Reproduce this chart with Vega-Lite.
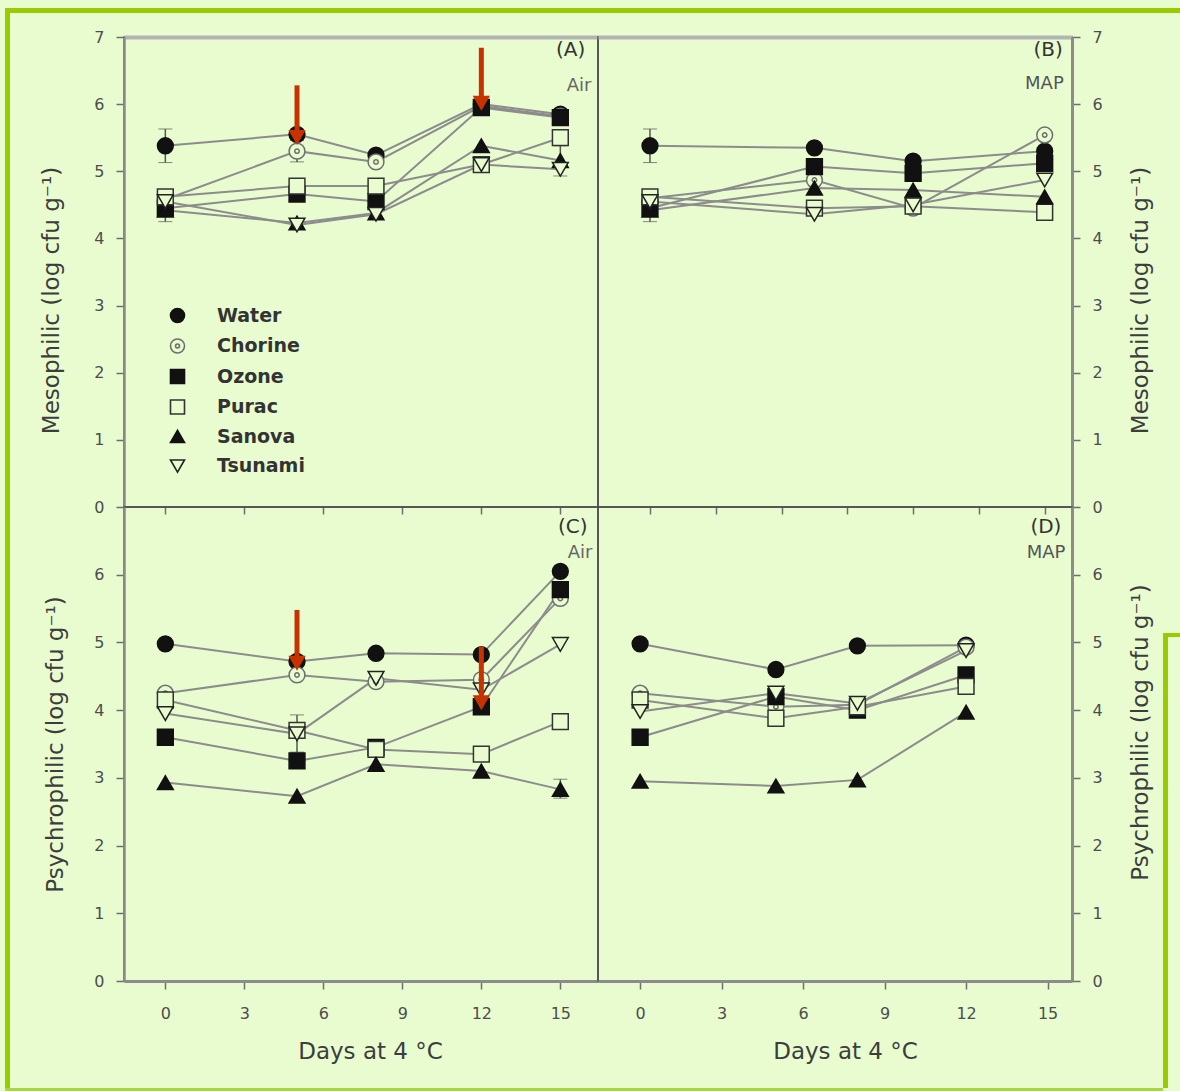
{
  "$schema": "https://vega.github.io/schema/vega-lite/v6.json",
  "background": "#e8fcd0",
  "padding": {"left": 5, "top": 8, "right": 0, "bottom": 0},
  "autosize": {"type": "pad"},
  "config": {
    "font": "DejaVu Sans",
    "view": {"stroke": null},
    "axis": {
      "grid": false,
      "labelFont": "DejaVu Sans",
      "titleFont": "DejaVu Sans",
      "labelColor": "#4d4d4d",
      "titleColor": "#3d3d3d",
      "tickColor": "#6e6e6e",
      "tickWidth": 1.5,
      "labelFontSize": 16,
      "titleFontSize": 23,
      "titleFontWeight": "normal",
      "zindex": 1
    },
    "legend": {
      "title": null,
      "orient": "none",
      "legendX": 163,
      "legendY": 298,
      "padding": 0,
      "labelFont": "DejaVu Sans",
      "labelFontSize": 19,
      "labelFontWeight": "bold",
      "labelColor": "#333333",
      "labelOffset": 30,
      "rowPadding": 9.5,
      "symbolSize": 196,
      "symbolStrokeWidth": 1.6
    }
  },
  "datasets": {
    "micro": [
      {"panel": "A", "treatment": "Water", "day": 0, "value": 5.38},
      {"panel": "A", "treatment": "Water", "day": 5, "value": 5.55},
      {"panel": "A", "treatment": "Water", "day": 8, "value": 5.24},
      {"panel": "A", "treatment": "Water", "day": 12, "value": 6.0},
      {"panel": "A", "treatment": "Water", "day": 15, "value": 5.85},
      {"panel": "A", "treatment": "Chorine", "day": 0, "value": 4.58},
      {"panel": "A", "treatment": "Chorine", "day": 5, "value": 5.3},
      {"panel": "A", "treatment": "Chorine", "day": 8, "value": 5.14},
      {"panel": "A", "treatment": "Chorine", "day": 12, "value": 5.97},
      {"panel": "A", "treatment": "Chorine", "day": 15, "value": 5.82},
      {"panel": "A", "treatment": "Ozone", "day": 0, "value": 4.45},
      {"panel": "A", "treatment": "Ozone", "day": 5, "value": 4.66},
      {"panel": "A", "treatment": "Ozone", "day": 8, "value": 4.55},
      {"panel": "A", "treatment": "Ozone", "day": 12, "value": 5.95},
      {"panel": "A", "treatment": "Ozone", "day": 15, "value": 5.8},
      {"panel": "A", "treatment": "Purac", "day": 0, "value": 4.62},
      {"panel": "A", "treatment": "Purac", "day": 5, "value": 4.78},
      {"panel": "A", "treatment": "Purac", "day": 8, "value": 4.78},
      {"panel": "A", "treatment": "Purac", "day": 12, "value": 5.1},
      {"panel": "A", "treatment": "Purac", "day": 15, "value": 5.5},
      {"panel": "A", "treatment": "Sanova", "day": 0, "value": 4.42},
      {"panel": "A", "treatment": "Sanova", "day": 5, "value": 4.23},
      {"panel": "A", "treatment": "Sanova", "day": 8, "value": 4.38},
      {"panel": "A", "treatment": "Sanova", "day": 12, "value": 5.38},
      {"panel": "A", "treatment": "Sanova", "day": 15, "value": 5.16},
      {"panel": "A", "treatment": "Tsunami", "day": 0, "value": 4.55},
      {"panel": "A", "treatment": "Tsunami", "day": 5, "value": 4.2},
      {"panel": "A", "treatment": "Tsunami", "day": 8, "value": 4.36},
      {"panel": "A", "treatment": "Tsunami", "day": 12, "value": 5.1},
      {"panel": "A", "treatment": "Tsunami", "day": 15, "value": 5.03},

      {"panel": "B", "treatment": "Water", "day": 0, "value": 5.38},
      {"panel": "B", "treatment": "Water", "day": 5, "value": 5.35},
      {"panel": "B", "treatment": "Water", "day": 8, "value": 5.15},
      {"panel": "B", "treatment": "Water", "day": 12, "value": 5.3},
      {"panel": "B", "treatment": "Chorine", "day": 0, "value": 4.6},
      {"panel": "B", "treatment": "Chorine", "day": 5, "value": 4.87},
      {"panel": "B", "treatment": "Chorine", "day": 8, "value": 4.45},
      {"panel": "B", "treatment": "Chorine", "day": 12, "value": 5.54},
      {"panel": "B", "treatment": "Ozone", "day": 0, "value": 4.45},
      {"panel": "B", "treatment": "Ozone", "day": 5, "value": 5.07},
      {"panel": "B", "treatment": "Ozone", "day": 8, "value": 4.97},
      {"panel": "B", "treatment": "Ozone", "day": 12, "value": 5.12},
      {"panel": "B", "treatment": "Purac", "day": 0, "value": 4.62},
      {"panel": "B", "treatment": "Purac", "day": 5, "value": 4.45},
      {"panel": "B", "treatment": "Purac", "day": 8, "value": 4.48},
      {"panel": "B", "treatment": "Purac", "day": 12, "value": 4.39},
      {"panel": "B", "treatment": "Sanova", "day": 0, "value": 4.42},
      {"panel": "B", "treatment": "Sanova", "day": 5, "value": 4.75},
      {"panel": "B", "treatment": "Sanova", "day": 8, "value": 4.72},
      {"panel": "B", "treatment": "Sanova", "day": 12, "value": 4.62},
      {"panel": "B", "treatment": "Tsunami", "day": 0, "value": 4.55},
      {"panel": "B", "treatment": "Tsunami", "day": 5, "value": 4.36},
      {"panel": "B", "treatment": "Tsunami", "day": 8, "value": 4.5},
      {"panel": "B", "treatment": "Tsunami", "day": 12, "value": 4.87},

      {"panel": "C", "treatment": "Water", "day": 0, "value": 4.98},
      {"panel": "C", "treatment": "Water", "day": 5, "value": 4.72},
      {"panel": "C", "treatment": "Water", "day": 8, "value": 4.84},
      {"panel": "C", "treatment": "Water", "day": 12, "value": 4.82},
      {"panel": "C", "treatment": "Water", "day": 15, "value": 6.05},
      {"panel": "C", "treatment": "Chorine", "day": 0, "value": 4.25},
      {"panel": "C", "treatment": "Chorine", "day": 5, "value": 4.52},
      {"panel": "C", "treatment": "Chorine", "day": 8, "value": 4.42},
      {"panel": "C", "treatment": "Chorine", "day": 12, "value": 4.45},
      {"panel": "C", "treatment": "Chorine", "day": 15, "value": 5.65},
      {"panel": "C", "treatment": "Ozone", "day": 0, "value": 3.6},
      {"panel": "C", "treatment": "Ozone", "day": 5, "value": 3.25},
      {"panel": "C", "treatment": "Ozone", "day": 8, "value": 3.45},
      {"panel": "C", "treatment": "Ozone", "day": 12, "value": 4.05},
      {"panel": "C", "treatment": "Ozone", "day": 15, "value": 5.78},
      {"panel": "C", "treatment": "Purac", "day": 0, "value": 4.15},
      {"panel": "C", "treatment": "Purac", "day": 5, "value": 3.7},
      {"panel": "C", "treatment": "Purac", "day": 8, "value": 3.42},
      {"panel": "C", "treatment": "Purac", "day": 12, "value": 3.35},
      {"panel": "C", "treatment": "Purac", "day": 15, "value": 3.83},
      {"panel": "C", "treatment": "Sanova", "day": 0, "value": 2.93},
      {"panel": "C", "treatment": "Sanova", "day": 5, "value": 2.73},
      {"panel": "C", "treatment": "Sanova", "day": 8, "value": 3.2},
      {"panel": "C", "treatment": "Sanova", "day": 12, "value": 3.1},
      {"panel": "C", "treatment": "Sanova", "day": 15, "value": 2.83},
      {"panel": "C", "treatment": "Tsunami", "day": 0, "value": 3.95},
      {"panel": "C", "treatment": "Tsunami", "day": 5, "value": 3.65},
      {"panel": "C", "treatment": "Tsunami", "day": 8, "value": 4.47},
      {"panel": "C", "treatment": "Tsunami", "day": 12, "value": 4.3},
      {"panel": "C", "treatment": "Tsunami", "day": 15, "value": 4.97},

      {"panel": "D", "treatment": "Water", "day": 0, "value": 4.98},
      {"panel": "D", "treatment": "Water", "day": 5, "value": 4.6},
      {"panel": "D", "treatment": "Water", "day": 8, "value": 4.95},
      {"panel": "D", "treatment": "Water", "day": 12, "value": 4.96},
      {"panel": "D", "treatment": "Chorine", "day": 0, "value": 4.25},
      {"panel": "D", "treatment": "Chorine", "day": 5, "value": 4.05},
      {"panel": "D", "treatment": "Chorine", "day": 8, "value": 4.08},
      {"panel": "D", "treatment": "Chorine", "day": 12, "value": 4.93},
      {"panel": "D", "treatment": "Ozone", "day": 0, "value": 3.6},
      {"panel": "D", "treatment": "Ozone", "day": 5, "value": 4.2},
      {"panel": "D", "treatment": "Ozone", "day": 8, "value": 4.0},
      {"panel": "D", "treatment": "Ozone", "day": 12, "value": 4.52},
      {"panel": "D", "treatment": "Purac", "day": 0, "value": 4.15},
      {"panel": "D", "treatment": "Purac", "day": 5, "value": 3.88},
      {"panel": "D", "treatment": "Purac", "day": 8, "value": 4.05},
      {"panel": "D", "treatment": "Purac", "day": 12, "value": 4.35},
      {"panel": "D", "treatment": "Sanova", "day": 0, "value": 2.95},
      {"panel": "D", "treatment": "Sanova", "day": 5, "value": 2.88},
      {"panel": "D", "treatment": "Sanova", "day": 8, "value": 2.97},
      {"panel": "D", "treatment": "Sanova", "day": 12, "value": 3.97},
      {"panel": "D", "treatment": "Tsunami", "day": 0, "value": 3.98},
      {"panel": "D", "treatment": "Tsunami", "day": 5, "value": 4.25},
      {"panel": "D", "treatment": "Tsunami", "day": 8, "value": 4.1},
      {"panel": "D", "treatment": "Tsunami", "day": 12, "value": 4.88}
    ],
    "err": [
      {"panel": "A", "treatment": "Water", "day": 0, "lo": 5.13, "hi": 5.63},
      {"panel": "A", "treatment": "Sanova", "day": 0, "lo": 4.25, "hi": 4.59},
      {"panel": "A", "treatment": "Chorine", "day": 5, "lo": 5.14, "hi": 5.46},
      {"panel": "A", "treatment": "Sanova", "day": 15, "lo": 4.93, "hi": 5.38},
      {"panel": "B", "treatment": "Water", "day": 0, "lo": 5.13, "hi": 5.63},
      {"panel": "B", "treatment": "Sanova", "day": 0, "lo": 4.25, "hi": 4.59},
      {"panel": "C", "treatment": "Tsunami", "day": 5, "lo": 3.38, "hi": 3.93},
      {"panel": "C", "treatment": "Sanova", "day": 15, "lo": 2.7, "hi": 2.98}
    ],
    "arrows": [
      {"panel": "A", "day": 5, "from": 6.28, "to": 5.39},
      {"panel": "A", "day": 12, "from": 6.84, "to": 5.9},
      {"panel": "C", "day": 5, "from": 5.48, "to": 4.58},
      {"panel": "C", "day": 12, "from": 4.94, "to": 4.0}
    ],
    "tags": [
      {"panel": "A", "tag": "(A)", "gas": "Air"},
      {"panel": "B", "tag": "(B)", "gas": "MAP"},
      {"panel": "C", "tag": "(C)", "gas": "Air"},
      {"panel": "D", "tag": "(D)", "gas": "MAP"}
    ]
  },
  "spacing": 0,
  "vconcat": [
    {"width": 1175, "height": 5, "data": {"values": []}, "mark": "point", "view": {"fill": "#99cc00"}},
    {
      "spacing": 0,
      "hconcat": [
        {"width": 5, "height": 1075, "data": {"values": []}, "mark": "point", "view": {"fill": "#99cc00"}},
        {
          "columns": 3,
          "spacing": 0,
          "bounds": "flush",
          "concat": [
            {"width": 114, "height": 24, "data": {"values": []}, "mark": "point"},
            {"width": 474, "height": 24, "data": {"values": []}, "mark": "point"},
            {"width": 474, "height": 24, "data": {"values": []}, "mark": "point"},
            {"width": 114, "height": 470, "data": {"values": []}, "mark": "point"},
            {
              "width": 474, "height": 470,
              "view": {"stroke": "#4d4d4d", "strokeWidth": 1.5},
              "layer": [
                {
                  "data": {"name": "micro"},
                  "transform": [{"filter": "datum.panel === 'A'"}],
                  "mark": {"type": "line", "color": "#8c8c8c", "strokeWidth": 2},
                  "encoding": {
                    "x": {"field": "day", "type": "quantitative", "scale": {"domain": [-1.57, 16.43], "nice": false, "zero": false},
                          "axis": {"orient": "bottom", "values": [0, 3, 6, 9, 12, 15], "labels": false, "domain": false, "tickSize": 7, "title": null}},
                    "y": {"field": "value", "type": "quantitative", "scale": {"domain": [0, 7], "nice": false, "zero": false},
                          "axis": {"orient": "left", "values": [0, 1, 2, 3, 4, 5, 6, 7], "format": "d", "tickSize": 8, "labelPadding": 12, "domainColor": "#8c8c8c", "domainWidth": 2.5, "title": "Mesophilic (log cfu g⁻¹)", "titlePadding": 30, "titleY": 263}},
                    "detail": {"field": "treatment"}
                  }
                },
                {
                  "data": {"name": "err"},
                  "transform": [{"filter": "datum.panel === 'A'"}],
                  "mark": {"type": "errorbar", "ticks": {"size": 14, "color": "#555555", "strokeWidth": 1.5}, "rule": {"color": "#555555", "strokeWidth": 1.5}},
                  "encoding": {
                    "x": {"field": "day", "type": "quantitative", "axis": null},
                    "y": {"field": "lo", "type": "quantitative", "title": "Mesophilic (log cfu g⁻¹)"},
                    "y2": {"field": "hi"}
                  }
                },
                {
                  "data": {"name": "micro"},
                  "transform": [{"filter": "datum.panel === 'A'"}],
                  "mark": {"type": "point", "size": 250, "strokeWidth": 1.5, "opacity": 1},
                  "encoding": {
                    "x": {"field": "day", "type": "quantitative", "axis": null},
                    "y": {"field": "value", "type": "quantitative"},
                    "shape": {"field": "treatment", "type": "nominal",
                      "scale": {"domain": ["Water", "Chorine", "Ozone", "Purac", "Sanova", "Tsunami"],
                                "range": ["circle", "M-1,0A1,1 0 1,1 1,0A1,1 0 1,1 -1,0ZM-0.28,0A0.28,0.28 0 1,1 0.28,0A0.28,0.28 0 1,1 -0.28,0Z", "square", "square", "triangle-up", "triangle-down"]}},
                    "fill": {"field": "treatment", "type": "nominal",
                      "scale": {"domain": ["Water", "Chorine", "Ozone", "Purac", "Sanova", "Tsunami"],
                                "range": ["#111111", "#e8fcd0", "#111111", "#e8fcd0", "#111111", "#e8fcd0"]}},
                    "stroke": {"field": "treatment", "type": "nominal",
                      "scale": {"domain": ["Water", "Chorine", "Ozone", "Purac", "Sanova", "Tsunami"],
                                "range": ["#111111", "#6e6e6e", "#111111", "#333333", "#111111", "#222222"]}}
                  }
                },
                {
                  "data": {"name": "arrows"},
                  "transform": [{"filter": "datum.panel === 'A'"}],
                  "mark": {"type": "rule", "color": "#c83200", "strokeWidth": 5, "y2Offset": -10},
                  "encoding": {
                    "x": {"field": "day", "type": "quantitative", "axis": null},
                    "y": {"field": "from", "type": "quantitative"},
                    "y2": {"field": "to"}
                  }
                },
                {
                  "data": {"name": "arrows"},
                  "transform": [{"filter": "datum.panel === 'A'"}],
                  "mark": {"type": "point", "shape": "triangle-down", "filled": true, "color": "#c83200", "size": 300, "opacity": 1, "yOffset": -7.5},
                  "encoding": {
                    "x": {"field": "day", "type": "quantitative", "axis": null},
                    "y": {"field": "to", "type": "quantitative"}
                  }
                },
                {
                  "data": {"name": "tags"},
                  "transform": [{"filter": "datum.panel === 'A'"}],
                  "mark": {"type": "text", "align": "right", "baseline": "middle", "fontSize": 20, "color": "#333333"},
                  "encoding": {
                    "x": {"datum": 15.95, "type": "quantitative",
                          "axis": {"orient": "top", "labels": false, "ticks": false, "domain": true, "domainColor": "#b4b4b4", "domainWidth": 4, "title": null}},
                    "y": {"datum": 6.81, "type": "quantitative"},
                    "text": {"field": "tag"}
                  }
                },
                {
                  "data": {"name": "tags"},
                  "transform": [{"filter": "datum.panel === 'A'"}],
                  "mark": {"type": "text", "align": "right", "baseline": "middle", "fontSize": 18, "color": "#666666"},
                  "encoding": {
                    "x": {"datum": 16.18, "type": "quantitative", "axis": null},
                    "y": {"datum": 6.27, "type": "quantitative"},
                    "text": {"field": "gas"}
                  }
                }
              ]
            },
            {
              "width": 474, "height": 470,
              "view": {"stroke": "#4d4d4d", "strokeWidth": 1.5},
              "layer": [
                {
                  "data": {"name": "micro"},
                  "transform": [{"filter": "datum.panel === 'B'"}],
                  "mark": {"type": "line", "color": "#8c8c8c", "strokeWidth": 2},
                  "encoding": {
                    "x": {"field": "day", "type": "quantitative", "scale": {"domain": [-1.58, 12.83], "nice": false, "zero": false},
                          "axis": {"orient": "bottom", "values": [0, 2, 4, 6, 8, 10, 12], "labels": false, "domain": false, "tickSize": 7, "title": null}},
                    "y": {"field": "value", "type": "quantitative", "scale": {"domain": [0, 7], "nice": false, "zero": false},
                          "axis": {"orient": "right", "values": [0, 1, 2, 3, 4, 5, 6, 7], "format": "d", "tickSize": 8, "labelPadding": 12, "domainColor": "#8c8c8c", "domainWidth": 3, "title": "Mesophilic (log cfu g⁻¹)", "titleAngle": 270, "titleBaseline": "top", "titlePadding": 27, "titleY": 263}},
                    "detail": {"field": "treatment"}
                  }
                },
                {
                  "data": {"name": "err"},
                  "transform": [{"filter": "datum.panel === 'B'"}],
                  "mark": {"type": "errorbar", "ticks": {"size": 14, "color": "#555555", "strokeWidth": 1.5}, "rule": {"color": "#555555", "strokeWidth": 1.5}},
                  "encoding": {
                    "x": {"field": "day", "type": "quantitative", "axis": null},
                    "y": {"field": "lo", "type": "quantitative", "title": "Mesophilic (log cfu g⁻¹)"},
                    "y2": {"field": "hi"}
                  }
                },
                {
                  "data": {"name": "micro"},
                  "transform": [{"filter": "datum.panel === 'B'"}],
                  "mark": {"type": "point", "size": 250, "strokeWidth": 1.5, "opacity": 1},
                  "encoding": {
                    "x": {"field": "day", "type": "quantitative", "axis": null},
                    "y": {"field": "value", "type": "quantitative"},
                    "shape": {"field": "treatment", "type": "nominal"},
                    "fill": {"field": "treatment", "type": "nominal"},
                    "stroke": {"field": "treatment", "type": "nominal"}
                  }
                },
                {
                  "data": {"name": "tags"},
                  "transform": [{"filter": "datum.panel === 'B'"}],
                  "mark": {"type": "text", "align": "right", "baseline": "middle", "fontSize": 20, "color": "#333333"},
                  "encoding": {
                    "x": {"datum": 12.55, "type": "quantitative",
                          "axis": {"orient": "top", "labels": false, "ticks": false, "domain": true, "domainColor": "#b4b4b4", "domainWidth": 4, "title": null}},
                    "y": {"datum": 6.81, "type": "quantitative"},
                    "text": {"field": "tag"}
                  }
                },
                {
                  "data": {"name": "tags"},
                  "transform": [{"filter": "datum.panel === 'B'"}],
                  "mark": {"type": "text", "align": "right", "baseline": "middle", "fontSize": 18, "color": "#555555"},
                  "encoding": {
                    "x": {"datum": 12.58, "type": "quantitative", "axis": null},
                    "y": {"datum": 6.3, "type": "quantitative"},
                    "text": {"field": "gas"}
                  }
                }
              ]
            },
            {"width": 114, "height": 474, "data": {"values": []}, "mark": "point"},
            {
              "width": 474, "height": 474,
              "view": {"stroke": "#4d4d4d", "strokeWidth": 1.5},
              "layer": [
                {
                  "data": {"name": "micro"},
                  "transform": [{"filter": "datum.panel === 'C'"}],
                  "mark": {"type": "line", "color": "#8c8c8c", "strokeWidth": 2},
                  "encoding": {
                    "x": {"field": "day", "type": "quantitative", "scale": {"domain": [-1.57, 16.43], "nice": false, "zero": false},
                          "axis": {"orient": "bottom", "values": [0, 3, 6, 9, 12, 15], "format": "d", "tickSize": 8, "labelPadding": 16, "domainColor": "#8c8c8c", "domainWidth": 3, "title": "Days at 4 °C", "titlePadding": 19, "titleX": 246}},
                    "y": {"field": "value", "type": "quantitative", "scale": {"domain": [0, 7], "nice": false, "zero": false},
                          "axis": {"orient": "left", "values": [0, 1, 2, 3, 4, 5, 6], "format": "d", "tickSize": 8, "labelPadding": 12, "domainColor": "#8c8c8c", "domainWidth": 2.5, "title": "Psychrophilic (log cfu g⁻¹)", "titlePadding": 26}},
                    "detail": {"field": "treatment"}
                  }
                },
                {
                  "data": {"name": "err"},
                  "transform": [{"filter": "datum.panel === 'C'"}],
                  "mark": {"type": "errorbar", "ticks": {"size": 14, "color": "#555555", "strokeWidth": 1.5}, "rule": {"color": "#555555", "strokeWidth": 1.5}},
                  "encoding": {
                    "x": {"field": "day", "type": "quantitative", "title": "Days at 4 °C"},
                    "y": {"field": "lo", "type": "quantitative", "title": "Psychrophilic (log cfu g⁻¹)"},
                    "y2": {"field": "hi"}
                  }
                },
                {
                  "data": {"name": "micro"},
                  "transform": [{"filter": "datum.panel === 'C'"}],
                  "mark": {"type": "point", "size": 250, "strokeWidth": 1.5, "opacity": 1},
                  "encoding": {
                    "x": {"field": "day", "type": "quantitative"},
                    "y": {"field": "value", "type": "quantitative"},
                    "shape": {"field": "treatment", "type": "nominal"},
                    "fill": {"field": "treatment", "type": "nominal"},
                    "stroke": {"field": "treatment", "type": "nominal"}
                  }
                },
                {
                  "data": {"name": "arrows"},
                  "transform": [{"filter": "datum.panel === 'C'"}],
                  "mark": {"type": "rule", "color": "#c83200", "strokeWidth": 5, "y2Offset": -10},
                  "encoding": {
                    "x": {"field": "day", "type": "quantitative"},
                    "y": {"field": "from", "type": "quantitative"},
                    "y2": {"field": "to"}
                  }
                },
                {
                  "data": {"name": "arrows"},
                  "transform": [{"filter": "datum.panel === 'C'"}],
                  "mark": {"type": "point", "shape": "triangle-down", "filled": true, "color": "#c83200", "size": 300, "opacity": 1, "yOffset": -7.5},
                  "encoding": {
                    "x": {"field": "day", "type": "quantitative"},
                    "y": {"field": "to", "type": "quantitative"}
                  }
                },
                {
                  "data": {"name": "tags"},
                  "transform": [{"filter": "datum.panel === 'C'"}],
                  "mark": {"type": "text", "align": "right", "baseline": "middle", "fontSize": 20, "color": "#333333"},
                  "encoding": {
                    "x": {"datum": 16.03, "type": "quantitative"},
                    "y": {"datum": 6.7, "type": "quantitative"},
                    "text": {"field": "tag"}
                  }
                },
                {
                  "data": {"name": "tags"},
                  "transform": [{"filter": "datum.panel === 'C'"}],
                  "mark": {"type": "text", "align": "right", "baseline": "middle", "fontSize": 18, "color": "#666666"},
                  "encoding": {
                    "x": {"datum": 16.22, "type": "quantitative"},
                    "y": {"datum": 6.32, "type": "quantitative"},
                    "text": {"field": "gas"}
                  }
                }
              ]
            },
            {
              "width": 474, "height": 474,
              "view": {"stroke": "#4d4d4d", "strokeWidth": 1.5},
              "layer": [
                {
                  "data": {"name": "micro"},
                  "transform": [{"filter": "datum.panel === 'D'"}],
                  "mark": {"type": "line", "color": "#8c8c8c", "strokeWidth": 2},
                  "encoding": {
                    "x": {"field": "day", "type": "quantitative", "scale": {"domain": [-1.55, 15.9], "nice": false, "zero": false},
                          "axis": {"orient": "bottom", "values": [0, 3, 6, 9, 12, 15], "format": "d", "tickSize": 8, "labelPadding": 16, "domainColor": "#8c8c8c", "domainWidth": 3, "title": "Days at 4 °C", "titlePadding": 19, "titleX": 247}},
                    "y": {"field": "value", "type": "quantitative", "scale": {"domain": [0, 7], "nice": false, "zero": false},
                          "axis": {"orient": "right", "values": [0, 1, 2, 3, 4, 5, 6], "format": "d", "tickSize": 8, "labelPadding": 12, "domainColor": "#8c8c8c", "domainWidth": 3, "title": "Psychrophilic (log cfu g⁻¹)", "titleAngle": 270, "titleBaseline": "top", "titlePadding": 27, "titleY": 225}},
                    "detail": {"field": "treatment"}
                  }
                },
                {
                  "data": {"name": "micro"},
                  "transform": [{"filter": "datum.panel === 'D'"}],
                  "mark": {"type": "point", "size": 250, "strokeWidth": 1.5, "opacity": 1},
                  "encoding": {
                    "x": {"field": "day", "type": "quantitative"},
                    "y": {"field": "value", "type": "quantitative"},
                    "shape": {"field": "treatment", "type": "nominal"},
                    "fill": {"field": "treatment", "type": "nominal"},
                    "stroke": {"field": "treatment", "type": "nominal"}
                  }
                },
                {
                  "data": {"name": "tags"},
                  "transform": [{"filter": "datum.panel === 'D'"}],
                  "mark": {"type": "text", "align": "right", "baseline": "middle", "fontSize": 20, "color": "#333333"},
                  "encoding": {
                    "x": {"datum": 15.51, "type": "quantitative"},
                    "y": {"datum": 6.7, "type": "quantitative"},
                    "text": {"field": "tag"}
                  }
                },
                {
                  "data": {"name": "tags"},
                  "transform": [{"filter": "datum.panel === 'D'"}],
                  "mark": {"type": "text", "align": "right", "baseline": "middle", "fontSize": 18, "color": "#555555"},
                  "encoding": {
                    "x": {"datum": 15.66, "type": "quantitative"},
                    "y": {"datum": 6.32, "type": "quantitative"},
                    "text": {"field": "gas"}
                  }
                }
              ]
            }
          ]
        },
        {"width": 10, "height": 1, "data": {"values": []}, "mark": "point"},
        {
          "spacing": 0,
          "vconcat": [
            {"width": 17, "height": 620, "data": {"values": []}, "mark": "point"},
            {
              "spacing": 0,
              "hconcat": [
                {"width": 5, "height": 455, "data": {"values": []}, "mark": "point", "view": {"fill": "#99cc00"}},
                {"width": 12, "height": 4, "data": {"values": []}, "mark": "point", "view": {"fill": "#99cc00"}}
              ]
            }
          ]
        }
      ]
    },
    {"width": 1158, "height": 3, "data": {"values": []}, "mark": "point", "view": {"fill": "#a8d840"}}
  ]
}
